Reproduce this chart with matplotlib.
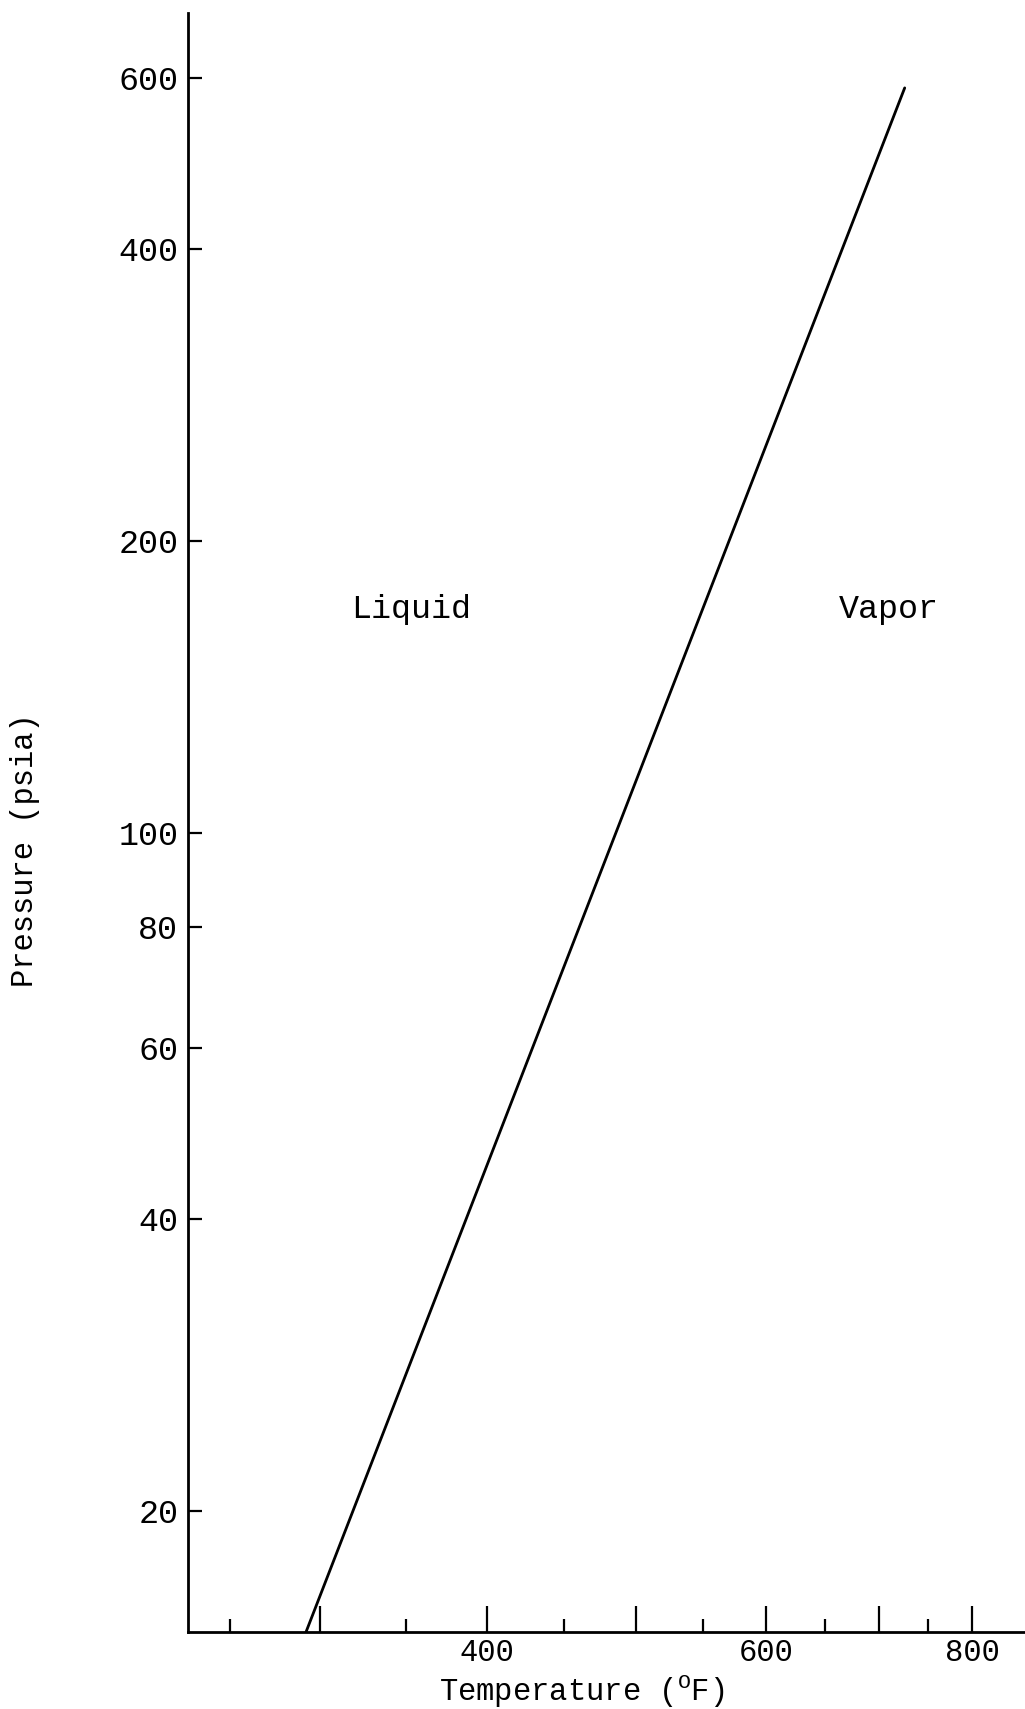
import numpy as np
import matplotlib.pyplot as plt
from matplotlib.ticker import FixedLocator, FixedFormatter, NullLocator

plt.rcParams['font.family'] = ['Liberation Mono', 'DejaVu Sans Mono']
plt.rcParams['mathtext.fontset'] = 'custom'
plt.rcParams['mathtext.rm'] = 'Liberation Mono'

# vapor pressure line, read at its two ends
temp_f = [292, 726]
press_psia = [15, 586]

y_ticks = [20, 40, 60, 80, 100, 200, 400, 600]
x_major = [300, 400, 500, 600, 700, 800]
x_major_labels = ['', '400', '', '600', '', '800']
x_minor = [250, 350, 450, 550, 650, 750]

# the temperature axis is graduated by hand, its spacing shrinks to the right;
# a gentle quadratic reproduces it
K = 0.0005194


def t_fwd(t):
    x = np.asarray(t, dtype=float) - 300.0
    return x - K * x ** 2


def t_inv(y):
    y = np.minimum(np.asarray(y, dtype=float), 0.999 / (4 * K))
    return 300.0 + (1 - np.sqrt(1 - 4 * K * y)) / (2 * K)


fig = plt.figure(figsize=(10.25, 17.09), dpi=100)
ax = fig.add_axes([188 / 1025, 1 - 1632 / 1709, (1025 - 188) / 1025, (1632 - 13) / 1709])

ax.set_xscale('function', functions=(t_fwd, t_inv))
ax.set_yscale('log')
ax.set_xlim(227.7, 867)
ax.set_ylim(15, 700)

ax.plot(temp_f, press_psia, color='black', lw=2.0, solid_capstyle='round')

ax.text(353, 170, 'Liquid', fontsize=24, ha='center', va='center')
ax.text(710, 170, 'Vapor', fontsize=24, ha='center', va='center')

for s in ['top', 'right']:
    ax.spines[s].set_visible(False)
for s in ['left', 'bottom']:
    ax.spines[s].set_linewidth(2.0)

ax.yaxis.set_major_locator(FixedLocator(y_ticks))
ax.yaxis.set_major_formatter(FixedFormatter([str(v) for v in y_ticks]))
ax.yaxis.set_minor_locator(NullLocator())
ax.xaxis.set_major_locator(FixedLocator(x_major))
ax.xaxis.set_major_formatter(FixedFormatter(x_major_labels))
ax.xaxis.set_minor_locator(FixedLocator(x_minor))

ax.tick_params(axis='y', which='major', direction='in', length=10, width=1.6,
               labelsize=24, pad=7)
ax.tick_params(axis='x', which='major', direction='in', length=19, width=1.6,
               labelsize=22, pad=4)
ax.tick_params(axis='x', which='minor', direction='in', length=9.5, width=1.6)

ax.set_ylabel('Pressure (psia)', fontsize=22, va='center')
ax.yaxis.set_label_coords(-0.195, 0.483)
ax.set_xlabel('Temperature ($^\\mathrm{O}$F)', fontsize=22, va='center')
ax.xaxis.set_label_coords(0.4707, -0.0366)

fig.savefig('out.png', dpi=100)
